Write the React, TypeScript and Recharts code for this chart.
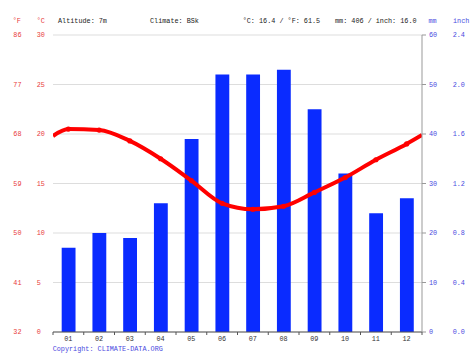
import React from 'react';
import { ComposedChart, Bar, Line, XAxis, YAxis, CartesianGrid } from 'recharts';

const months = ['01', '02', '03', '04', '05', '06', '07', '08', '09', '10', '11', '12'];
const tempC = [20.5, 20.4, 19.3, 17.5, 15.3, 13.0, 12.4, 12.7, 14.1, 15.6, 17.4, 19.0];
const precipMm = [17, 20, 19, 26, 39, 52, 52, 53, 45, 32, 24, 27];
// line value read at the left and right border of the plot (it wraps dec -> jan)
const tempEdges = [19.8, 19.9];
const tempTicks = [0, 5, 10, 15, 20, 25, 30];
const precipTicks = [0, 10, 20, 30, 40, 50, 60];

const rows = [
  { x: 0.5, temp: tempEdges[0] },
  ...months.map((m, i) => ({ x: i + 1, label: m, temp: tempC[i], mm: precipMm[i] })),
  { x: 12.5, temp: tempEdges[1] },
];

const FONT = '"Liberation Mono", "DejaVu Sans Mono", monospace';
const FS = 6.8;
const RED = '#e83a3a';
const BLUE = '#4a4ae0';
const HALF_BAND = 369 / 24;

const MonthTick = (props: any) => {
  const { x, y, payload } = props;
  const v = payload.value;
  return (
    <g>
      <line x1={x - HALF_BAND} x2={x - HALF_BAND} y1={y} y2={y + 3} stroke="#555" />
      {v === 12 && <line x1={x + HALF_BAND} x2={x + HALF_BAND} y1={y} y2={y + 3} stroke="#555" />}
      <text x={x} y={y + 9} textAnchor="middle" fontFamily={FONT} fontSize={FS} fill="#333">
        {months[v - 1]}
      </text>
    </g>
  );
};

const TempTick = (props: any) => {
  const { y, payload } = props;
  const c = payload.value;
  return (
    <g fontFamily={FONT} fontSize={FS} fill={RED}>
      <text x={13.3} y={y + 2.4}>{Math.round(c * 9 / 5 + 32)}</text>
      <text x={36.7} y={y + 2.4}>{c}</text>
    </g>
  );
};

const PrecipTick = (props: any) => {
  const { y, payload } = props;
  const mm = payload.value;
  return (
    <g fontFamily={FONT} fontSize={FS} fill={BLUE}>
      <text x={429} y={y + 2.4}>{mm}</text>
      <text x={452.7} y={y + 2.4}>{(mm / 25).toFixed(1)}</text>
    </g>
  );
};

const TempDot = (props: any) => {
  const { cx, cy, payload, index } = props;
  if (!payload.label) return <g key={'d' + index} />;
  return <circle key={'d' + index} cx={cx} cy={cy} r={2.6} fill="#ff0000" />;
};

const txt = (left: number, top: number, color: string): React.CSSProperties => ({
  position: 'absolute', left, top, color, fontFamily: FONT, fontSize: FS, lineHeight: '8px', whiteSpace: 'pre',
});

export default function App() {
  return (
    <div style={{ position: 'absolute', left: 0, top: 0, width: 474, height: 355, background: '#fff' }}>
      <ComposedChart width={474} height={355} data={rows} margin={{ top: 35, right: 0, bottom: 0, left: 0 }}>
        <CartesianGrid yAxisId="c" vertical={false} stroke="#dddddd" />
        <XAxis dataKey="x" type="number" domain={[0.5, 12.5]} ticks={months.map((_, i) => i + 1)}
          interval={0} height={23} tickSize={0} tickMargin={0} tickLine={false}
          axisLine={{ stroke: '#555' }} tick={<MonthTick />} allowDataOverflow />
        <YAxis yAxisId="c" orientation="left" width={53} domain={[0, 30]} ticks={tempTicks}
          axisLine={false} tickLine={false} tick={<TempTick />} />
        <YAxis yAxisId="mm" orientation="right" width={52} domain={[0, 60]} ticks={precipTicks}
          axisLine={{ stroke: '#999' }} tickLine={{ stroke: '#999' }} tickSize={4} tick={<PrecipTick />} />
        <Bar yAxisId="mm" dataKey="mm" fill="#0a2bff" barSize={16} isAnimationActive={false} />
        <Line yAxisId="c" dataKey="temp" type="monotone" stroke="#ff0000" strokeWidth={4}
          dot={<TempDot />} activeDot={false} isAnimationActive={false} />
      </ComposedChart>
      <div style={txt(12.7, 16.5, RED)}>°F</div>
      <div style={txt(36.7, 16.5, RED)}>°C</div>
      <div style={txt(58, 16.5, '#222')}>Altitude: 7m</div>
      <div style={txt(150, 16.5, '#222')}>Climate: BSk</div>
      <div style={txt(242.7, 16.5, '#222')}>°C: 16.4 / °F: 61.5</div>
      <div style={txt(335, 16.5, '#222')}>mm: 406 / inch: 16.0</div>
      <div style={txt(428.5, 16.5, BLUE)}>mm</div>
      <div style={txt(453, 16.5, BLUE)}>inch</div>
      <div style={txt(52.7, 344.5, BLUE)}>Copyright: CLIMATE-DATA.ORG</div>
    </div>
  );
}
